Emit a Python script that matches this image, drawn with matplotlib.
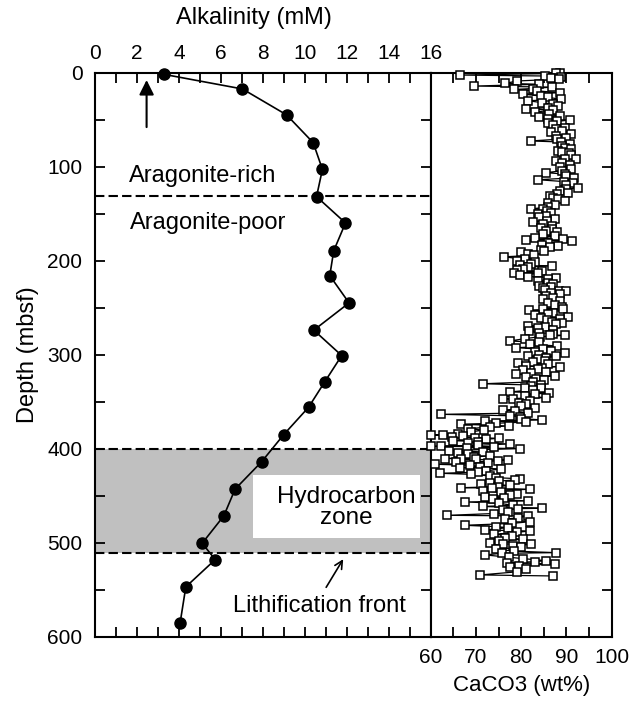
#Alkalinity and CaCO3 versus depth

#Importing libraries
import numpy as np
import matplotlib
matplotlib.use("Agg")
import matplotlib.pyplot as plt
from matplotlib.patches import Rectangle
from matplotlib.ticker import MultipleLocator

plt.rcParams['font.family'] = ['Liberation Sans', 'DejaVu Sans']

#Alkalinity data (depth in mbsf, alkalinity in mM)
alk_depth = [2, 17.5, 45, 74.6, 103, 132, 160, 189.5, 216, 245, 274, 301, 329,
             356, 385, 414, 443, 471.5, 500.6, 518, 547, 585]
alk_mM = [3.3, 7.03, 9.13, 10.4, 10.84, 10.56, 11.94, 11.38, 11.19, 12.11, 10.43,
          11.76, 10.95, 10.18, 9.0, 7.94, 6.68, 6.14, 5.11, 5.73, 4.33, 4.06]

#CaCO3 data (depth in mbsf, wt%)
caco3_depth = [0.5, 1.0, 2.7, 3.7, 5.5, 7.0, 9.0, 11.5, 14.4, 17.0, 18.0, 21.5, 23.0,
               25.0, 28.5, 30.0, 35.6, 37.4, 38.5, 42.0, 46.0, 49.8, 50.5, 54.0, 58.6,
               59.7, 65.7, 67.5, 72.8, 73.9, 76.4, 80.0, 81.0, 84.0, 86.0, 91.7, 92.3,
               94.0, 101.0, 103.0, 106.5, 108.0, 112.0, 114.0, 120.0, 122.5, 126.0,
               127.8, 131.0, 135.0, 136.6, 138.4, 141.0, 145.0, 145.5, 150.8, 152.6,
               156.0, 159.0, 161.4, 163.0, 165.0, 166.7, 172.0, 174.0, 175.6, 176.7,
               178.0, 179.0, 184.5, 186.0, 188.7, 191.0, 194.4, 196.0, 198.7, 204.0,
               205.0, 205.5, 208.6, 213.0, 213.5, 215.7, 218.0, 221.7, 223.5, 227.0,
               228.0, 231.3, 232.0, 232.3, 239.5, 240.5, 243.0, 247.6, 251.0, 251.5,
               252.6, 255.4, 259.7, 260.7, 261.8, 263.0, 267.8, 269.6, 270.3, 271.4,
               273.8, 274.9, 279.0, 279.5, 281.0, 283.0, 285.5, 290.8, 292.6, 294.4,
               298.6, 301.5, 302.0, 303.3, 304.3, 306.8, 307.8, 309.2, 312.5, 312.8,
               315.6, 316.4, 318.5, 319.8, 321.0, 322.7, 325.6, 331.0, 332.6, 333.4,
               335.0, 335.2, 339.7, 340.5, 344.0, 345.8, 346.9, 347.5, 352.8, 358.9,
               360.0, 363.5, 366.0, 369.5, 370.6, 371.7, 374.0, 375.9, 378.8, 380.2,
               385.5, 385.8, 386.5, 387.3, 388.3, 390.0, 393.7, 395.0, 396.4, 397.2,
               397.6, 397.9, 400.0, 403.5, 404.3, 406.0, 410.5, 410.7, 411.3, 412.0,
               413.1, 415.6, 416.6, 417.7, 420.2, 423.8, 426.2, 427.3, 430.9, 432.0,
               433.3, 436.2, 437.9, 440.5, 441.5, 443.2, 445.0, 449.6, 452.2, 453.9,
               455.6, 456.7, 460.2, 463.4, 463.8, 467.4, 470.9, 471.6, 473.4, 477.7,
               481.5, 484.0, 486.5, 487.6, 491.1, 494.7, 496.4, 500.6, 501.4, 501.7,
               503.5, 510.6, 511.3, 513.0, 515.5, 519.1, 520.2, 521.3, 522.6, 534.3,
               535.4]
caco3_wt = [88.5, 87.8, 66.5, 85.2, 87.0, 88.4, 79.1, 76.5, 69.6, 82.6, 78.4, 88.5, 80.4,
            84.4, 88.9, 81.5, 88.1, 85.9, 81.1, 83.1, 88.5, 85.9, 90.7, 85.9, 89.6,
            87.8, 91.1, 87.8, 82.1, 88.9, 90.7, 89.6, 91.1, 89.0, 90.5, 92.2, 89.6,
            87.8, 88.5, 91.1, 85.5, 89.6, 91.7, 83.7, 90.0, 92.6, 88.5,
            90.3, 86.3, 88.1, 89.6, 85.9, 87.4, 82.2, 84.8, 83.7, 85.5,
            87.4, 82.6, 84.8, 86.7, 84.4, 86.7, 84.8, 87.4, 83.0, 89.2,
            81.1, 91.2, 88.1, 86.3, 84.4, 79.9, 82.8, 76.2, 80.8, 82.2,
            79.7, 86.7, 80.4, 78.4, 83.7, 79.7, 87.8, 83.7, 85.9, 84.0,
            86.5, 85.2, 88.3, 90.0, 87.0, 84.8, 88.5, 87.4, 84.8, 89.2,
            81.7, 87.0, 90.3, 84.4, 88.5, 85.8, 87.8, 81.5, 85.2, 83.7,
            87.0, 81.7, 86.3, 89.6, 84.1, 80.8, 77.5, 88.0, 78.9, 84.8,
            89.6, 81.5, 87.8, 85.5, 83.7, 85.2, 82.6, 79.4, 81.1, 88.5,
            83.7, 80.4, 85.5, 82.2, 78.9, 87.4, 83.3, 71.6, 84.4, 82.2,
            80.8, 84.4, 77.5, 86.1, 80.8, 85.5, 76.0, 78.2, 81.1, 76.0,
            78.6, 62.3, 79.7, 84.7, 71.9, 81.1, 66.6, 77.2, 68.2, 71.8,
            60.1, 62.7, 67.1, 64.7, 69.7, 72.3, 68.2, 77.5, 70.5, 62.3,
            60.1, 74.1, 79.7, 71.6, 66.0, 68.2, 63.1, 70.1, 66.8, 77.1,
            74.9, 72.7, 60.9, 68.6, 66.4, 72.3, 62.0, 69.0, 74.5, 79.7,
            78.6, 73.0, 71.2, 74.9, 66.8, 81.9, 71.6, 77.5, 76.2, 73.8,
            81.5, 67.5, 78.2, 84.5, 79.3, 77.1, 63.7, 81.5, 79.4, 81.9,
            67.5, 77.1, 71.9, 81.9, 74.1, 76.4, 80.4, 73.0, 76.0, 82.2,
            78.2, 87.8, 75.7, 72.0, 77.4, 85.5, 83.0, 76.9, 87.5, 71.0,
            87.0]

#CaCO3 squares hidden in the dense core of the profile (estimated)
core_depth = [4.5, 6.2, 12.5, 15.5, 19.5, 26.5, 32.0, 33.5, 40.0, 44.0, 47.5, 52.0,
              56.0, 62.0, 63.5, 69.5, 71.0, 78.0, 83.0, 88.0, 96.0, 98.0, 104.5, 110.0,
              116.0, 118.0, 124.0, 129.0, 133.0, 143.0, 147.5, 149.0, 154.0, 157.5,
              168.5, 170.0, 181.0, 183.0, 190.0, 193.0, 200.0, 202.0, 207.0, 210.0,
              211.5, 217.0, 220.0, 225.0, 229.5, 234.0, 236.0, 238.0, 245.0, 249.0,
              257.0, 258.0, 265.0, 266.0, 276.5, 278.0, 287.0, 289.0, 296.0, 297.0,
              300.0, 310.5, 314.0, 324.0, 327.5, 329.0, 337.5, 342.0, 349.5, 351.0,
              355.0, 357.0, 362.0, 365.0, 368.0, 373.0, 377.0, 382.0, 384.0, 389.0,
              391.5, 392.5, 399.0, 402.0, 407.5, 409.0, 414.5, 419.0, 421.5, 425.0,
              429.0, 434.5, 439.0, 442.0, 446.5, 448.0, 451.0, 458.0, 461.5, 465.5,
              469.0, 475.0, 479.5, 483.0, 489.0, 493.0, 498.0, 505.0, 507.0, 509.0,
              517.0, 524.5, 526.0, 528.5, 531.0]
core_wt = [88.9, 86.5, 84.0, 86.8, 83.5, 86.0, 84.5, 87.0, 87.0, 86.2, 84.0, 88.0,
           87.0, 89.0, 86.5, 90.0, 88.0, 89.0, 88.2, 91.0, 89.0, 90.8, 89.0, 90.0,
           89.5, 91.5, 90.0, 88.0, 87.0, 86.0, 85.6, 86.5, 84.0, 85.8,
           85.5, 88.0, 86.0, 84.5, 85.0, 81.5, 79.0, 83.0, 81.5, 79.0,
           84.5, 81.5, 86.0, 87.0, 84.8, 86.5, 88.5, 85.5, 86.0, 89.0,
           86.0, 83.0, 86.8, 89.0, 84.0, 87.0, 84.0, 82.0, 86.5, 83.0,
           84.0, 86.0, 84.5, 81.0, 85.0, 82.5, 82.5, 83.0, 82.0, 79.5,
           80.0, 83.0, 81.5, 77.5, 80.0, 74.5, 73.0, 69.0, 66.0, 75.0,
           65.0, 70.5, 68.0, 64.0, 73.0, 69.5, 65.5, 71.0, 75.5, 70.5,
           73.0, 75.0, 77.5, 73.5, 75.5, 79.0, 72.0, 75.0, 71.5, 76.0,
           74.0, 76.5, 78.0, 74.5, 79.0, 78.0, 75.0, 80.0, 74.5, 78.5,
           80.5, 79.5, 77.5, 81.0, 79.0]

#Zone boundaries (mbsf)
aragonite_boundary = 131.7
hydrocarbon_top = 400
hydrocarbon_bottom = 510.6

#Join and order the CaCO3 samples by depth
all_depth = np.array(caco3_depth + core_depth)
all_wt = np.array(caco3_wt + core_wt)
order = np.argsort(all_depth, kind='stable')
all_depth, all_wt = all_depth[order], all_wt[order]

#Figure and axes
fig = plt.figure(figsize=(6.29, 7.02), dpi=100)
ax1 = fig.add_axes([0.1510, 0.0930, 0.5337, 0.8037])
ax2 = fig.add_axes([0.6847, 0.0930, 0.2878, 0.8037], sharey=ax1)

#Left panel: alkalinity
ax1.axhspan(hydrocarbon_top, hydrocarbon_bottom, color='#c0c0c0', lw=0, zorder=0)
ax1.add_patch(Rectangle((7.52, 428), 7.96, 66.7, facecolor='white', edgecolor='none', zorder=1))
for d in [aragonite_boundary, hydrocarbon_top, hydrocarbon_bottom]:
    ax1.axhline(d, color='k', lw=1.5, dashes=(4.5, 2), zorder=2)
ax1.plot(alk_mM, alk_depth, color='k', lw=1.2, marker='o', ms=8, zorder=4, clip_on=False)

ax1.annotate('', xy=(2.46, 5), xytext=(2.46, 61),
             arrowprops=dict(arrowstyle='-|>', color='k', lw=1.5, mutation_scale=22))
ax1.annotate('', xy=(11.9, 515), xytext=(10.95, 550),
             arrowprops=dict(arrowstyle='->', color='k', lw=1.2, mutation_scale=14))

ax1.text(1.62, 110, 'Aragonite-rich', fontsize=17, va='center', ha='left')
ax1.text(1.67, 160, 'Aragonite-poor', fontsize=17, va='center', ha='left')
ax1.text(12.0, 463, 'Hydrocarbon\nzone', fontsize=17.5, va='center', ha='center',
         linespacing=0.95, zorder=3)
ax1.text(10.7, 567, 'Lithification front', fontsize=17, va='center', ha='center')

ax1.set_xlim(0, 16)
ax1.set_ylim(600, 0)
ax1.xaxis.set_major_locator(MultipleLocator(2))
ax1.xaxis.set_minor_locator(MultipleLocator(1))
ax1.yaxis.set_major_locator(MultipleLocator(100))
ax1.yaxis.set_minor_locator(MultipleLocator(50))
ax1.tick_params(axis='x', which='both', direction='in', top=True, bottom=True,
                labeltop=True, labelbottom=False, length=7, width=1.3, labelsize=15, pad=7)
ax1.tick_params(axis='y', which='both', direction='in', left=True, right=True,
                length=7, width=1.3, labelsize=15, pad=9)
ax1.set_ylabel('Depth (mbsf)', fontsize=17, labelpad=6)

#Right panel: CaCO3
ax2.plot(all_wt, all_depth, color='k', lw=0.9, marker='s', ms=5.5,
         mfc='white', mec='k', mew=1.1, clip_on=False, zorder=3)
ax2.set_xlim(60, 100)
ax2.xaxis.set_major_locator(MultipleLocator(10))
ax2.xaxis.set_minor_locator(MultipleLocator(5))
ax2.tick_params(axis='x', which='both', direction='in', top=True, bottom=True,
                length=7, width=1.3, labelsize=15, pad=8)
ax2.tick_params(axis='y', which='both', direction='in', left=False, right=True,
                labelleft=False, length=7, width=1.3)
ax2.set_xlabel('CaCO3 (wt%)', fontsize=16, labelpad=6)

for ax in [ax1, ax2]:
    for s in ax.spines.values():
        s.set_linewidth(1.5)

fig.text(254 / 629, 1 - 18 / 702, 'Alkalinity (mM)', fontsize=17, ha='center', va='center')

plt.savefig('out.png', dpi=100)
